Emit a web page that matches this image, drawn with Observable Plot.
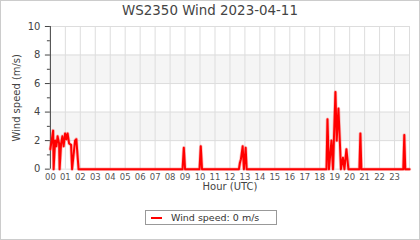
<!DOCTYPE html>
<html><head><meta charset="utf-8">
<script src="https://cdn.jsdelivr.net/npm/d3@7"></script>
<script src="https://cdn.jsdelivr.net/npm/@observablehq/plot@0.6"></script>
<style>
html,body{margin:0;padding:0;background:#fff;font-family:"DejaVu Sans",sans-serif;}
#frame{position:relative;width:418px;height:238px;border:1px solid #ccc;overflow:hidden;background:#fff;}
#title{position:absolute;left:-1px;top:2px;width:420px;text-align:center;font-size:13.4px;color:#444;line-height:16px;}
#chart{position:absolute;left:-1px;top:21px;}
#legend{position:absolute;left:144px;top:209px;width:130px;height:13px;border:1px solid #999;font-size:9.5px;color:#333;line-height:13px;white-space:nowrap;}
#legend .sw{display:inline-block;width:11px;height:2px;background:#f00;vertical-align:middle;margin:0 9px 0 5px;position:relative;top:-1px;}
</style>
</head><body>
<div id="frame">
  <div id="title"></div>
  <div id="chart"></div>
  <div id="legend"><span class="sw"></span><span id="legtext"></span></div>
</div>
<script>
const titleText = "WS2350 Wind 2023-04-11";
const yLabel = "Wind speed (m/s)";
const xLabel = "Hour (UTC)";
const legendText = "Wind speed: 0 m/s";

// minutes since midnight (UTC) and wind speed in m/s
const minutes = [0,11,13,19,24,29,35,37,43,48,53,59,64,69,75,83,87,93,99,104,113,
  530,535,540, 598,603,608,
  756,760,764,771,776,783,787,
  1107,1111,1117,1127,1133,1143,1148,1155,1161,1165,1173,1179,1187,1195,
  1239,1243,1247, 1415,1419,1423, 1440];
const speeds = [1.4,2.7,0,2.0,1.6,2.3,1.8,0,1.8,2.3,1.6,2.5,2.1,2.5,1.8,1.7,0,1.0,2.0,2.1,0,
  0,1.5,0, 0,1.6,0,
  0,0.45,0.7,1.6,0,1.5,0,
  0,3.5,0,2.0,0,5.4,2.0,4.25,1.8,0,0.8,0,1.4,0,
  0,2.5,0, 0,2.4,0, 0];

const hourTicks = d3.range(0, 24);            // 00 .. 23
const yMajor = [0, 2, 4, 6, 8, 10];
const yMinor = [1, 3, 5, 7, 9];
const bandLow = [2, 6];
const bandHigh = [4, 8];

const data = minutes.map((m, i) => ({m, v: speeds[i]}));
const bands = bandLow.map((b, i) => ({y1: b, y2: bandHigh[i]}));

document.getElementById("title").textContent = titleText;
document.getElementById("legtext").textContent = legendText;

const chart = Plot.plot({
  width: 420,
  height: 176,
  marginLeft: 50,
  marginRight: 10,
  marginTop: 4,
  marginBottom: 29,
  style: {fontFamily: "DejaVu Sans, sans-serif", background: "transparent", overflow: "visible"},
  x: {domain: [0, 1440]},
  y: {domain: [0, 10]},
  marks: [
    Plot.rectY(bands, {x1: 0, x2: 1440, y1: "y1", y2: "y2", fill: "#f5f5f5"}),
    Plot.ruleX(hourTicks.concat([24]).map(h => h * 60), {stroke: "#ddd", strokeWidth: 1}),
    Plot.ruleY(yMajor, {stroke: "#ddd", strokeWidth: 1}),
    Plot.axisY(yMajor, {tickSize: 5, tickPadding: 5, fontSize: 10, color: "#444", stroke: "#444", label: null}),
    Plot.axisY(yMinor, {tickSize: 3, text: null, stroke: "#444", label: null}),
    Plot.ruleX([0], {stroke: "#444", strokeWidth: 1}),
    Plot.axisX(hourTicks.map(h => h * 60), {tickSize: 0, tickPadding: 5, fontSize: 8.5, color: "#555",
      tickFormat: d => String(d / 60).padStart(2, "0"), label: null}),
    Plot.text([yLabel], {frameAnchor: "left", textAnchor: "middle", dx: -34, rotate: -90, fontSize: 10, fill: "#444"}),
    Plot.text([xLabel], {frameAnchor: "bottom", dy: 21, fontSize: 10, fill: "#444"}),
    Plot.line(data, {x: "m", y: "v", stroke: "#ff4040", strokeWidth: 3.5, strokeOpacity: 0.35, curve: "linear"}),
    Plot.line(data, {x: "m", y: "v", stroke: "#ff0000", strokeWidth: 2, curve: "linear"})
  ]
});
document.getElementById("chart").appendChild(chart);
</script>
</body></html>
